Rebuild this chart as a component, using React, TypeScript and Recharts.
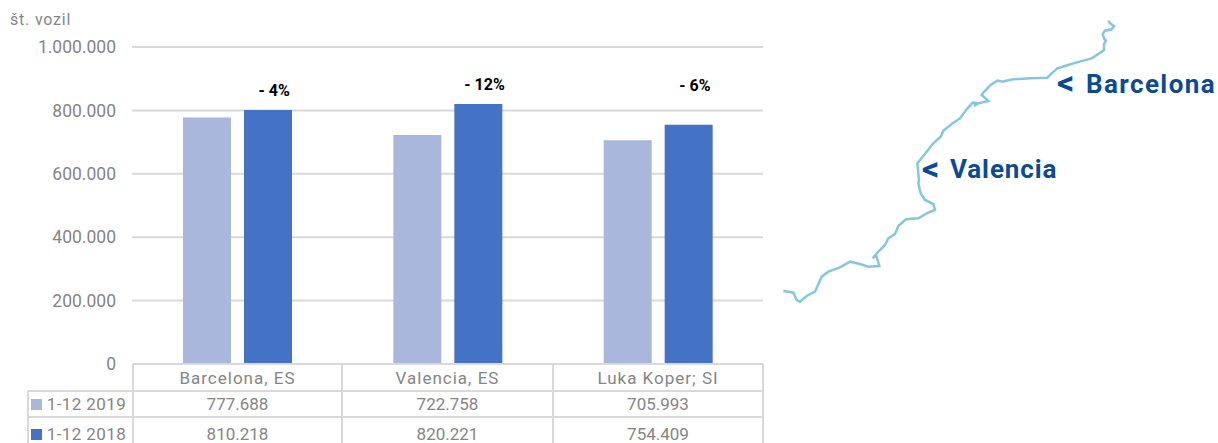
import { Bar, CartesianGrid, ComposedChart, LabelList, Line, LineChart, XAxis, YAxis } from 'recharts';

const categories = ['Barcelona, ES', 'Valencia, ES', 'Luka Koper; SI'];
const labels2019 = ['777.688', '722.758', '705.993'];
const labels2018 = ['810.218', '820.221', '754.409'];
const values2019 = [777688, 722758, 705993];
// the Barcelona 2018 bar is drawn at about 800k in the picture, not at its table value
const values2018 = [801000, 820221, 754409];
const changeLabels = ['- 4%', '- 12%', '- 6%'];
const changeLevels = [845000, 863000, 862000];
const yTicks = [0, 200000, 400000, 600000, 800000, 1000000];

// coastline
const coastX = [1015, 1020, 1032, 1025, 1005, 998, 1003, 1008, 1002, 1002, 985, 965, 940, 910, 885, 862, 845, 832, 780, 730, 708, 700, 682, 662, 640, 635, 650, 655, 625, 612, 625, 608, 590, 570, 545, 520, 512, 490, 470, 442, 445, 447, 445, 452, 465, 490, 495, 470, 445, 408, 385, 375, 355, 345, 325, 308, 318, 328, 295, 270, 240, 210, 175, 155, 135, 110, 90, 80, 70, 40];
const coastY = [32, 40, 48, 58, 62, 72, 88, 92, 102, 120, 132, 145, 152, 160, 168, 175, 190, 203, 205, 208, 212, 215, 212, 225, 248, 255, 268, 273, 280, 288, 280, 278, 298, 325, 342, 362, 380, 400, 425, 460, 490, 510, 520, 550, 570, 582, 600, 610, 625, 628, 648, 672, 685, 705, 725, 745, 735, 768, 770, 762, 755, 772, 785, 800, 845, 858, 875, 870, 848, 843];

const COLOR_2019 = '#a9b7dc';
const COLOR_2018 = '#4472c4';
const GRID = '#d9d9d9';
const TEXT = '#858585';
const FONT = 'Roboto, sans-serif';

const chartData = categories.map((name, i) => ({
  name,
  y2019: values2019[i],
  y2018: values2018[i],
  change: changeLevels[i],
  changeLabel: changeLabels[i],
}));
const coastData = coastX.map((x, i) => ({ x, y: coastY[i] }));

const colEdges = [132, 341, 552, 762];
const rowEdges = [363, 390, 416, 450];

function Cell({ x0, x1, y0, y1, size = 17, spacing = 0, children }: any) {
  return (
    <div
      style={{
        position: 'absolute',
        left: x0,
        top: y0,
        width: x1 - x0,
        height: y1 - y0,
        boxSizing: 'border-box',
        border: `2px solid ${GRID}`,
        display: 'flex',
        alignItems: 'center',
        justifyContent: 'center',
        fontFamily: FONT,
        fontWeight: 400,
        fontSize: size,
        letterSpacing: spacing,
        color: TEXT,
        whiteSpace: 'nowrap',
      }}
    >
      {children}
    </div>
  );
}

function ChangeLabel({ x, y, value }: any) {
  return (
    <text x={x + 37} y={y} textAnchor="middle" fontFamily={FONT} fontWeight={700} fontSize={16} fill="#000">
      {value}
    </text>
  );
}

function MapLabel({ left, top, text, spacing = 0, size = 26 }: any) {
  return (
    <div
      style={{
        position: 'absolute',
        left,
        top,
        fontFamily: FONT,
        fontWeight: 700,
        fontSize: size,
        lineHeight: '30px',
        letterSpacing: spacing,
        color: '#0b4a96',
        whiteSpace: 'pre',
      }}
    >
      {text}
    </div>
  );
}

export default function App() {
  const legendRows = [
    { label: '1-12 2019', color: COLOR_2019, cells: labels2019 },
    { label: '1-12 2018', color: COLOR_2018, cells: labels2018 },
  ];

  return (
    <div style={{ position: 'absolute', left: 0, top: 0, width: 1218, height: 443, overflow: 'hidden', background: '#fff' }}>
      <ComposedChart
        width={1218}
        height={443}
        data={chartData}
        margin={{ top: 47, right: 455, bottom: 79, left: 0 }}
        barGap={13}
        barSize={48}
      >
        <CartesianGrid vertical={false} stroke={GRID} strokeWidth={2} />
        <XAxis dataKey="name" hide />
        <YAxis
          width={132}
          domain={[0, 1000000]}
          ticks={yTicks}
          axisLine={false}
          tickLine={false}
          tickMargin={10}
          tickFormatter={(v: number) => v.toString().replace(/\B(?=(\d{3})+$)/g, '.')}
          tick={{ fill: TEXT, fontFamily: FONT, fontWeight: 400, fontSize: 17.5 }}
        />
        <Bar dataKey="y2019" fill={COLOR_2019} isAnimationActive={false} />
        <Bar dataKey="y2018" fill={COLOR_2018} isAnimationActive={false} />
        <Line dataKey="change" stroke="none" dot={false} isAnimationActive={false}>
          <LabelList dataKey="changeLabel" content={<ChangeLabel />} />
        </Line>
      </ComposedChart>

      <div style={{ position: 'absolute', left: 10, top: 10, fontFamily: FONT, fontWeight: 400, fontSize: 16, letterSpacing: 0.8, color: TEXT }}>
        št. vozil
      </div>

      {categories.map((name, i) => (
        <Cell key={name} x0={colEdges[i]} x1={colEdges[i + 1] + 2} y0={rowEdges[0]} y1={rowEdges[1] + 2} size={17} spacing={1}>
          {name}
        </Cell>
      ))}
      {legendRows.map((row, r) => (
        <div key={row.label}>
          <Cell x0={27} x1={colEdges[0] + 2} y0={rowEdges[r + 1]} y1={rowEdges[r + 2] + 2} size={17} spacing={0.4}>
            <span style={{ width: 11, height: 11, background: row.color, marginRight: 5, marginLeft: -4 }} />
            {row.label}
          </Cell>
          {row.cells.map((cell, i) => (
            <Cell key={i} x0={colEdges[i]} x1={colEdges[i + 1] + 2} y0={rowEdges[r + 1]} y1={rowEdges[r + 2] + 2}>
              {cell}
            </Cell>
          ))}
        </div>
      ))}

      <div style={{ position: 'absolute', left: 770, top: 10 }}>
        <LineChart width={448} height={300} data={coastData} margin={{ top: 0, right: 0, bottom: 0, left: 0 }}>
          <XAxis dataKey="x" type="number" domain={[0, 1344]} hide />
          <YAxis type="number" domain={[0, 900]} reversed hide />
          <Line dataKey="y" type="linear" stroke="#86c6de" strokeWidth={2.5} dot={false} isAnimationActive={false} />
        </LineChart>
      </div>

      <MapLabel left={1057} top={67} text={'<'} size={34} />
      <MapLabel left={1086} top={69} text="Barcelona" spacing={1.4} />
      <MapLabel left={922} top={153} text={'<'} size={34} />
      <MapLabel left={950} top={154} text="Valencia" spacing={0.9} />
    </div>
  );
}
